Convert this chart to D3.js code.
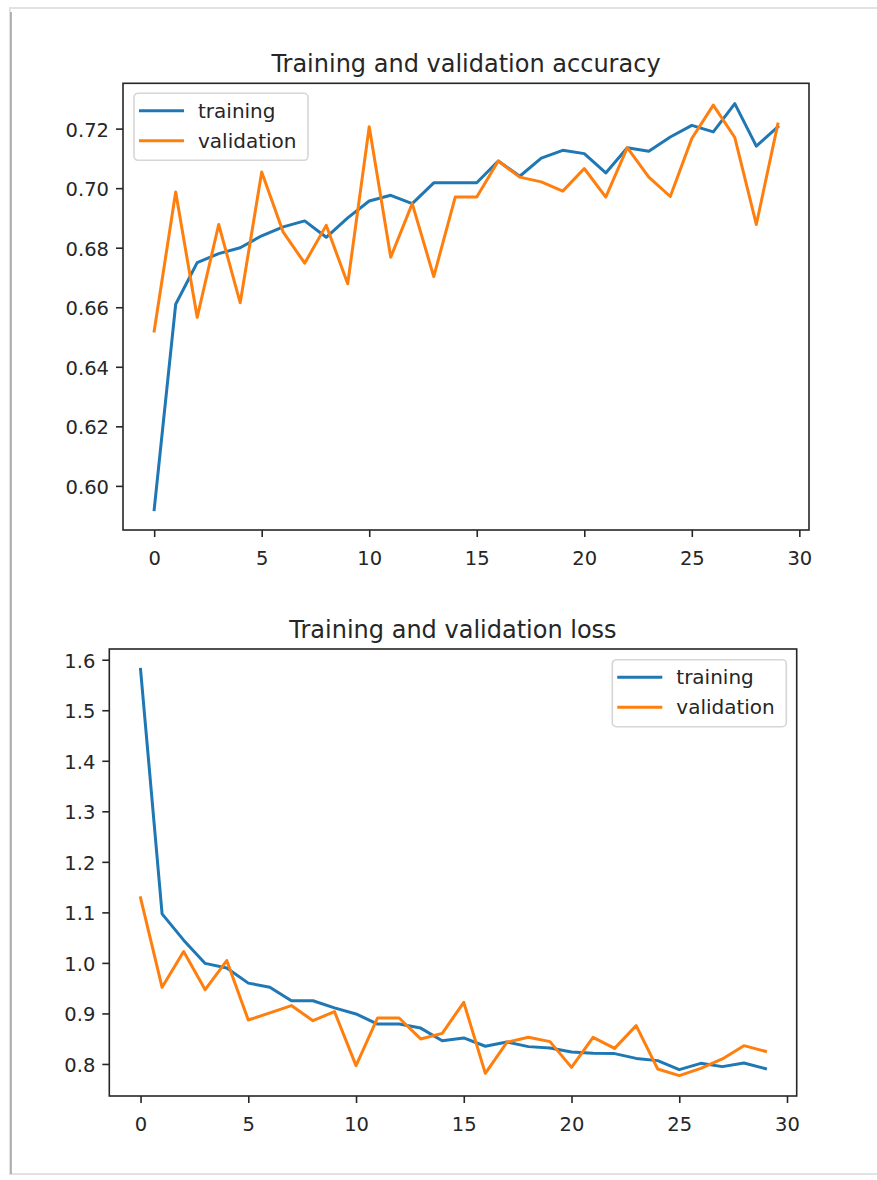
<!DOCTYPE html>
<meta charset="utf-8">
<style>
body { margin: 0; background: #fff; }
svg text { font-family: "DejaVu Sans", sans-serif; fill: #262626; }
.axis path, .axis line { stroke: #262626; stroke-width: 1.6px; }
.axis text { font-size: 19.5px; }
.title { font-size: 24px; }
.legend text { font-size: 20px; }
</style>
<svg width="877" height="1180"></svg>
<script src="https://cdn.jsdelivr.net/npm/d3@7/dist/d3.min.js"></script>
<script>

var epochs = d3.range(30);
var xTicks = [0, 5, 10, 15, 20, 25, 30];
var seriesNames = ["training", "validation"];
var colors = ["#1f77b4", "#ff7f0e"];

var accTrain = [0.592, 0.661, 0.675, 0.678, 0.680, 0.684, 0.687, 0.689, 0.6835, 0.690,
                0.6957, 0.6976, 0.6948, 0.7018, 0.7018, 0.7018, 0.7091, 0.7040, 0.7101, 0.7127,
                0.7116, 0.7051, 0.7136, 0.7124, 0.7172, 0.7211, 0.7189, 0.7284, 0.7141, 0.7206];
var accVal = [0.652, 0.6987, 0.6566, 0.6878, 0.6615, 0.7054, 0.6852, 0.6748, 0.6875, 0.6679,
              0.7206, 0.6768, 0.6948, 0.6703, 0.6970, 0.6970, 0.7091, 0.7037, 0.7021, 0.6990,
              0.7066, 0.6970, 0.7136, 0.7037, 0.6972, 0.7167, 0.7279, 0.7170, 0.6878, 0.7215];
var accTicks = [0.60, 0.62, 0.64, 0.66, 0.68, 0.70, 0.72];

var lossTrain = [1.581, 1.097, 1.045, 0.999, 0.990, 0.960, 0.952, 0.925, 0.925, 0.911,
                 0.899, 0.879, 0.879, 0.871, 0.846, 0.8515, 0.835, 0.8436, 0.8343, 0.8317,
                 0.8238, 0.821, 0.8205, 0.811, 0.8066, 0.7887, 0.8012, 0.7947, 0.802, 0.7907];
var lossVal = [1.1287, 0.9517, 1.0224, 0.947, 1.0046, 0.887, 0.901, 0.9155, 0.8857, 0.9036,
               0.7967, 0.891, 0.891, 0.8495, 0.8606, 0.922, 0.7814, 0.8428, 0.8527, 0.8442,
               0.7933, 0.8527, 0.8309, 0.8758, 0.790, 0.7768, 0.7913, 0.810, 0.8362, 0.825];
var lossTicks = [0.8, 0.9, 1.0, 1.1, 1.2, 1.3, 1.4, 1.5, 1.6];

var svg = d3.select("svg");

// frame around the screenshot
svg.append("rect")
    .attr("x", 10).attr("y", 8).attr("width", 900).attr("height", 1166)
    .attr("fill", "none").attr("stroke", "#e2e2e2").attr("stroke-width", 2);
svg.append("line")
    .attr("x1", 11).attr("y1", 12).attr("x2", 11).attr("y2", 1174)
    .attr("stroke", "#9a9a9a").attr("stroke-width", 2).attr("opacity", 0.7);

// matplotlib style autoscale with 5% margins
function pad(lo, hi) {
  var m = (hi - lo) * 0.05;
  return [lo - m, hi + m];
}

function drawPanel(opt) {
  var g = svg.append("g");
  var x = d3.scaleLinear().domain(pad(0, 29)).range([opt.left, opt.right]);
  var all = opt.series[0].concat(opt.series[1]);
  var y = d3.scaleLinear().domain(pad(d3.min(all), d3.max(all))).range([opt.bottom, opt.top]);

  var line = d3.line().x(function(d, i) { return x(i); }).y(function(d) { return y(d); });

  opt.series.forEach(function(s, k) {
    g.append("path")
        .datum(s)
        .attr("d", line)
        .attr("fill", "none")
        .attr("stroke", colors[k])
        .attr("stroke-width", 3)
        .attr("stroke-linejoin", "round")
        .attr("stroke-linecap", "square");
  });

  g.append("rect")
      .attr("x", opt.left).attr("y", opt.top)
      .attr("width", opt.right - opt.left).attr("height", opt.bottom - opt.top)
      .attr("fill", "none").attr("stroke", "#262626").attr("stroke-width", 1.6);

  var xa = g.append("g").attr("class", "axis")
      .attr("transform", "translate(0," + opt.bottom + ")")
      .call(d3.axisBottom(x).tickValues(xTicks).tickSize(7).tickPadding(5).tickFormat(d3.format("d")));
  xa.select(".domain").remove();
  xa.selectAll("text").attr("dy", "1.2em");

  var ya = g.append("g").attr("class", "axis")
      .attr("transform", "translate(" + opt.left + ",0)")
      .call(d3.axisLeft(y).tickValues(opt.ticks).tickSize(7).tickPadding(7).tickFormat(d3.format(opt.fmt)));
  ya.select(".domain").remove();
  ya.selectAll("text").attr("dy", "0.38em");

  g.append("text")
      .attr("class", "title")
      .attr("x", (opt.left + opt.right) / 2)
      .attr("y", opt.top - 11)
      .attr("text-anchor", "middle")
      .text(opt.title);

  var lg = g.append("g").attr("class", "legend")
      .attr("transform", "translate(" + opt.legend[0] + "," + opt.legend[1] + ")");
  lg.append("rect")
      .attr("width", 174).attr("height", 67).attr("rx", 4)
      .attr("fill", "#fff").attr("fill-opacity", 0.8)
      .attr("stroke", "#d6d6d6").attr("stroke-width", 1.6);
  seriesNames.forEach(function(name, k) {
    var yy = 17.5 + k * 30;
    lg.append("line")
        .attr("x1", 5).attr("x2", 50).attr("y1", yy).attr("y2", yy)
        .attr("stroke", colors[k]).attr("stroke-width", 3);
    lg.append("text")
        .attr("x", 64).attr("y", yy).attr("dy", "0.35em")
        .text(name);
  });
}

drawPanel({
  left: 123, right: 809, top: 83.3, bottom: 530,
  series: [accTrain, accVal], ticks: accTicks, fmt: ".2f",
  title: "Training and validation accuracy",
  legend: [134, 93.3]
});

drawPanel({
  left: 109.3, right: 796.7, top: 649, bottom: 1096,
  series: [lossTrain, lossVal], ticks: lossTicks, fmt: ".1f",
  title: "Training and validation loss",
  legend: [612.3, 659.7]
});

</script>
